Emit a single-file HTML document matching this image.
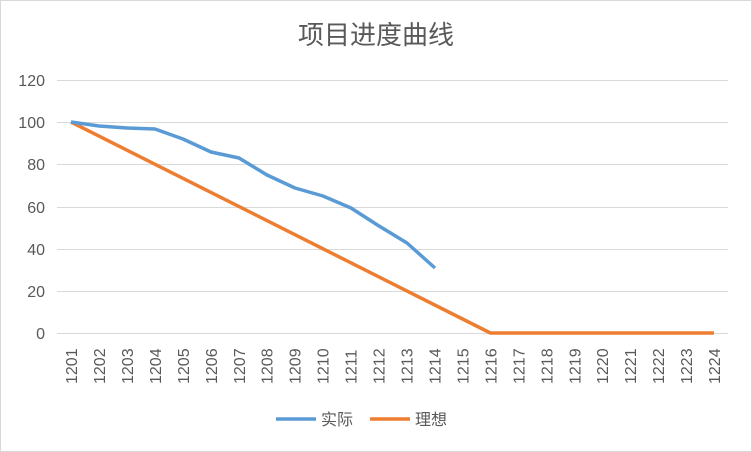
<!DOCTYPE html>
<html><head><meta charset="utf-8"><style>
body{margin:0;background:#fff}
svg{display:block;font-family:"Liberation Sans","Noto Sans CJK SC",sans-serif}
</style></head><body>
<svg width="752" height="452" viewBox="0 0 752 452">
<rect x="0.5" y="0.5" width="751" height="451" fill="#fff" stroke="#d9d9d9"/>
<text x="376" y="44" text-anchor="middle" font-size="26" fill="#595959">项目进度曲线</text>
<g stroke="#d9d9d9" stroke-width="1">
<line x1="57" x2="728" y1="80.5" y2="80.5"/>
<line x1="57" x2="728" y1="122.5" y2="122.5"/>
<line x1="57" x2="728" y1="164.5" y2="164.5"/>
<line x1="57" x2="728" y1="207.5" y2="207.5"/>
<line x1="57" x2="728" y1="249.5" y2="249.5"/>
<line x1="57" x2="728" y1="291.5" y2="291.5"/>
<line x1="57" x2="728" y1="333.5" y2="333.5"/>
</g>
<g font-size="16" fill="#595959" text-anchor="end">
<text x="45" y="86">120</text><text x="45" y="128">100</text><text x="45" y="170">80</text>
<text x="45" y="213">60</text><text x="45" y="255">40</text><text x="45" y="297">20</text><text x="45" y="339">0</text>
</g>
<g font-size="16" fill="#595959" id="xl"></g>
<polyline fill="none" stroke="#ed7d31" stroke-width="3.5" stroke-linejoin="round" points="71,122 490.4,333 714,333"/>
<polyline fill="none" stroke="#5b9bd5" stroke-width="3.5" stroke-linejoin="round" points="71,122 99,126 127,128 155,129 183,139 211,152 239,158 267,175 295,188 323,196 351,208 379,226 407,243 435,268"/>
<line x1="276" x2="316" y1="419" y2="419" stroke="#5b9bd5" stroke-width="3.5"/>
<text x="321" y="425" font-size="16" fill="#595959">实际</text>
<line x1="370" x2="410" y1="419" y2="419" stroke="#ed7d31" stroke-width="3.5"/>
<text x="415" y="425" font-size="16" fill="#595959">理想</text>
</svg>
<script>
var g=document.getElementById('xl'),s='';
for(var i=0;i<24;i++){var x=71+i*27.96+6;s+='<text transform="translate('+x.toFixed(1)+',384) rotate(-90)">'+(1201+i)+'</text>';}
g.innerHTML=s;
</script>
</body></html>
